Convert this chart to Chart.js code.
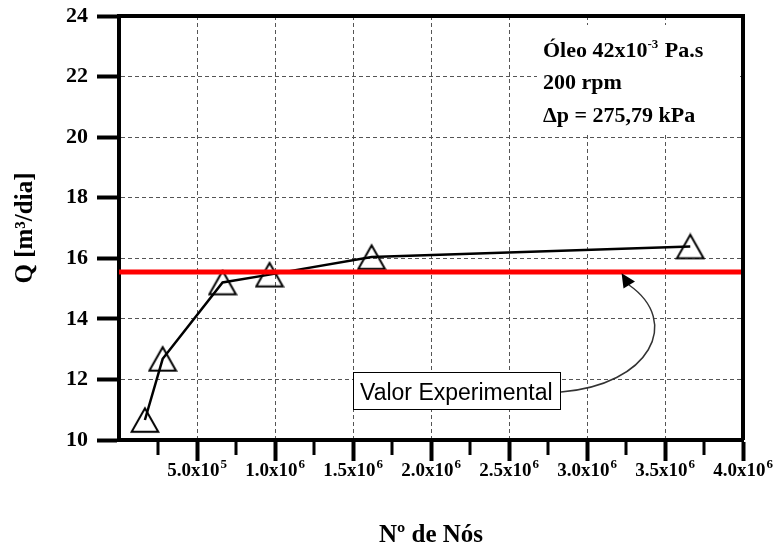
<!DOCTYPE html>
<html><head><meta charset="utf-8">
<script src="https://cdn.jsdelivr.net/npm/chart.js@4.4.1/dist/chart.umd.min.js"></script>
<style>html,body{margin:0;padding:0;background:#fff;}#wrap{width:779px;height:548px;position:relative;}</style>
</head><body><div id="wrap"><canvas id="c" width="779" height="548"></canvas></div>
<script>
// ---- data ----
const nodeCounts = [166000, 280000, 664000, 965000, 1619000, 3662000];
const flowRates = [10.66, 12.68, 15.20, 15.46, 16.04, 16.39];
const experimentalValue = 15.55;
const experimentalRange = [0, 4000000];
const xTickValues = [500000, 1000000, 1500000, 2000000, 2500000, 3000000, 3500000, 4000000];
const xTickBases = ['5.0x10', '1.0x10', '1.5x10', '2.0x10', '2.5x10', '3.0x10', '3.5x10', '4.0x10'];
const xTickExponents = ['5', '6', '6', '6', '6', '6', '6', '6'];
const xMinorTicks = [250000, 750000, 1250000, 1750000, 2250000, 2750000, 3250000, 3750000];
const yTickValues = [10, 12, 14, 16, 18, 20, 22, 24];
const xTitle = 'Nº de Nós';
const yTitle = 'Q [m³/dia]';
const infoLines = [['Óleo 42x10', '-3', ' Pa.s'], ['200 rpm'], ['Δp = 275,79 kPa']];
const calloutText = 'Valor Experimental';

const SERIF = '"Liberation Serif", "Times New Roman", serif';
const SANS = '"Liberation Sans", Arial, sans-serif';
Chart.defaults.color = '#000';

// hollow triangle marker
const tri = document.createElement('canvas');
tri.width = 30; tri.height = 28;
const tc = tri.getContext('2d');
tc.lineWidth = 2; tc.strokeStyle = '#000'; tc.lineJoin = 'miter';
tc.beginPath(); tc.moveTo(15, 2.3); tc.lineTo(28.3, 25.7); tc.lineTo(1.7, 25.7); tc.closePath(); tc.stroke();

const decor = {
  id: 'decor',
  beforeDatasetsDraw(chart) {
    const ctx = chart.ctx;
    const a = chart.chartArea;
    const xs = chart.scales.x;
    ctx.save();
    // white box behind info text
    ctx.fillStyle = '#fff';
    ctx.fillRect(537, 25, 203, 110);
    ctx.fillStyle = '#000';
    ctx.textBaseline = 'alphabetic';
    const x0 = 543, baselines = [57, 89, 122];
    infoLines.forEach((parts, i) => {
      let x = x0;
      parts.forEach((p, j) => {
        const sup = parts.length === 3 && j === 1;
        ctx.font = 'bold ' + (sup ? 13 : 22) + 'px ' + SERIF;
        ctx.fillText(p, x, baselines[i] - (sup ? 9 : 0));
        x += ctx.measureText(p).width + (sup ? 1 : 0);
      });
    });
    // x tick labels with superscript exponents
    xs.ticks.forEach(t => {
      const i = xTickValues.indexOf(t.value);
      if (i < 0) return;
      const px = xs.getPixelForValue(t.value);
      ctx.font = 'bold 19px ' + SERIF;
      const wb = ctx.measureText(xTickBases[i]).width;
      ctx.font = 'bold 13px ' + SERIF;
      const we = ctx.measureText(xTickExponents[i]).width;
      let x = px - (wb + we + 1) / 2;
      const base = a.bottom + 36;
      ctx.font = 'bold 19px ' + SERIF;
      ctx.fillText(xTickBases[i], x, base);
      ctx.font = 'bold 13px ' + SERIF;
      ctx.fillText(xTickExponents[i], x + wb + 1, base - 8);
    });
    ctx.restore();
  },
  afterDatasetsDraw(chart) {
    const ctx = chart.ctx;
    const a = chart.chartArea;
    const xs = chart.scales.x;
    ctx.save();
    // frame top & right
    ctx.strokeStyle = '#000'; ctx.lineWidth = 4;
    ctx.beginPath();
    ctx.moveTo(a.left - 2, a.top); ctx.lineTo(a.right + 2, a.top);
    ctx.moveTo(a.right, a.top - 2); ctx.lineTo(a.right, a.bottom);
    ctx.stroke();
    // minor ticks on x
    ctx.lineWidth = 3;
    ctx.beginPath();
    xMinorTicks.forEach(v => {
      const px = xs.getPixelForValue(v);
      ctx.moveTo(px, a.bottom + 2); ctx.lineTo(px, a.bottom + 15);
    });
    ctx.stroke();
    // callout box
    ctx.fillStyle = '#fff';
    ctx.fillRect(353, 372, 208, 38);
    ctx.lineWidth = 1; ctx.strokeStyle = '#000';
    ctx.strokeRect(353.5, 372.5, 207, 37);
    ctx.fillStyle = '#000';
    ctx.font = '23px ' + SANS;
    ctx.textBaseline = 'alphabetic';
    ctx.fillText(calloutText, 360, 400);
    // curved arrow
    ctx.strokeStyle = '#333'; ctx.lineWidth = 1.5;
    ctx.beginPath();
    ctx.moveTo(561, 392);
    ctx.bezierCurveTo(650, 385, 682, 322, 629, 285);
    ctx.stroke();
    ctx.fillStyle = '#000';
    ctx.beginPath();
    ctx.moveTo(621.6, 273.2);
    ctx.lineTo(635, 281.5);
    ctx.lineTo(623.5, 288.5);
    ctx.closePath(); ctx.fill();
    ctx.restore();
  }
};

new Chart(document.getElementById('c'), {
  type: 'scatter',
  data: {
    datasets: [
      {
        label: 'Valor Experimental',
        data: experimentalRange.map(x => ({x: x, y: experimentalValue})),
        showLine: true, borderColor: '#ff0000', borderWidth: 5,
        pointRadius: 0, pointHoverRadius: 0
      },
      {
        label: 'Q',
        data: nodeCounts.map((x, i) => ({x: x, y: flowRates[i]})),
        showLine: true, borderColor: '#000', borderWidth: 2.5, tension: 0,
        pointStyle: tri, pointRadius: 13, pointHoverRadius: 13
      }
    ]
  },
  options: {
    responsive: false, animation: false, devicePixelRatio: 1,
    layout: {padding: {left: 0, right: 36, top: 16, bottom: 0}},
    plugins: {legend: {display: false}, tooltip: {enabled: false}},
    scales: {
      x: {
        type: 'linear', min: 0, max: 4000000,
        afterFit: s => { s.height = 108; s.paddingLeft = 0; s.paddingRight = 0; },
        ticks: {
          stepSize: 500000, autoSkip: false, maxRotation: 0, padding: 2, color: 'rgba(0,0,0,0)',
          font: {family: SERIF, weight: 'bold', size: 12},
          callback: v => ''
        },
        grid: {
          color: c => (c.tick && c.tick.value > 0 && c.tick.value < 4000000) ? '#555' : 'rgba(0,0,0,0)',
          lineWidth: 1, tickLength: 21, tickWidth: 4,
          tickColor: c => (c.tick && c.tick.value === 0) ? 'rgba(0,0,0,0)' : '#000'
        },
        border: {color: '#000', width: 4, dash: [4, 3]},
        title: {display: true, text: xTitle, color: '#000',
          font: {family: SERIF, weight: 'bold', size: 25, lineHeight: 1}, padding: {top: 0, bottom: 0}}
      },
      y: {
        min: 10, max: 24,
        afterFit: s => { s.width = 119; s.paddingTop = 0; s.paddingBottom = 0; },
        afterBuildTicks: s => { s.ticks = yTickValues.map(v => ({value: v})); },
        ticks: {padding: 9, color: '#000', font: {family: SERIF, weight: 'bold', size: 22}},
        grid: {
          color: c => (c.tick && c.tick.value > 10 && c.tick.value < 24) ? '#555' : 'rgba(0,0,0,0)',
          lineWidth: 1, tickLength: 22, tickWidth: 4, tickColor: '#000'
        },
        border: {color: '#000', width: 4, dash: [4, 3]},
        title: {display: true, text: yTitle, color: '#000',
          font: {family: SERIF, weight: 'bold', size: 25, lineHeight: 1}, padding: {top: 13, bottom: 0}}
      }
    }
  },
  plugins: [decor]
});
</script>
</body></html>
